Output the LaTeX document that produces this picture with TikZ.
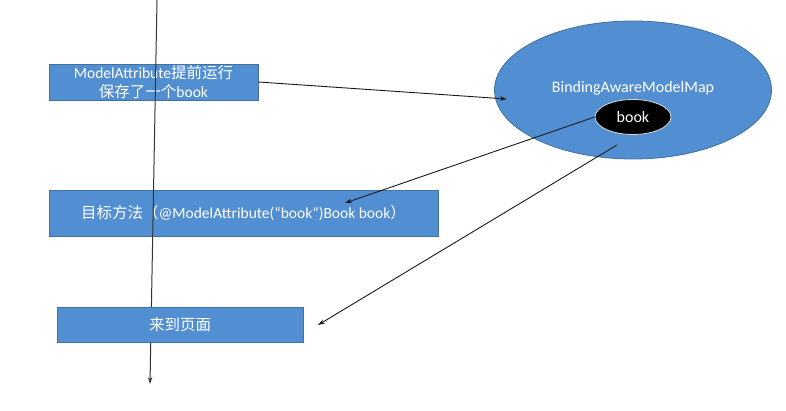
\documentclass[tikz,border=0pt]{standalone}
\usepackage{fontspec}
\setmainfont{Carlito}
\newfontfamily\cjk{Noto Sans CJK SC}
\usetikzlibrary{shapes.geometric,arrows.meta}
\definecolor{boxblue}{RGB}{82,143,210}
\definecolor{boxedge}{RGB}{65,113,156}
\tikzset{
  bluebox/.style={draw=boxedge, line width=0.8pt, fill=boxblue, text=white, inner sep=0pt, align=center, font=\fontsize{15.5}{19}\selectfont},
  conn/.style={draw=black!90, line width=0.9pt, -{Stealth[length=7pt,width=4.5pt]}},
}
\begin{document}
\begin{tikzpicture}[x=1pt,y=-1pt]
\useasboundingbox (0,0) rectangle (786,411);
% boxes
\node[bluebox, minimum width=209pt, minimum height=36pt] (b1) at (153.5,82) {ModelAttribute{\cjk 提前运行}\\{\cjk 保存了一个}book};
\node[bluebox, minimum width=389pt, minimum height=46pt] (b2) at (243.5,213) {{\cjk 目标方法（}@ModelAttribute(“book”)Book book{\cjk ）}};
% map
\node[ellipse, draw=boxedge, line width=0.8pt, fill=boxblue, minimum width=277pt, minimum height=138pt, inner sep=0pt] (map) at (633,90) {};
\node[text=white, font=\fontsize{16}{19}\selectfont, inner sep=0pt] (maplabel) at (633,88) {BindingAwareModelMap};
\node[ellipse, draw=black!15, line width=0.8pt, fill=black, text=white, minimum width=76pt, minimum height=35pt, inner sep=0pt, font=\fontsize{16}{19}\selectfont] (book) at (633,117) {book};
% vertical time line
\coordinate (vtop) at (157,0);
\coordinate (vbot) at (150,384);
\draw[draw=black!80, line width=1pt, -{Stealth[length=7pt,width=4.5pt]}] (vtop) -- (vbot);
\node[bluebox, minimum width=246pt, minimum height=35pt] (b3) at (180,325) {{\cjk 来到页面}};
% connectors
\coordinate (t1) at (507,99);
\coordinate (t2) at (345,203);
\coordinate (s3) at (617,145);
\coordinate (t3) at (318,325);
\draw[conn] (b1.east) -- (t1);
\draw[conn] (book.west) -- (t2);
\draw[conn] (s3) -- (t3);
\end{tikzpicture}
\end{document}
